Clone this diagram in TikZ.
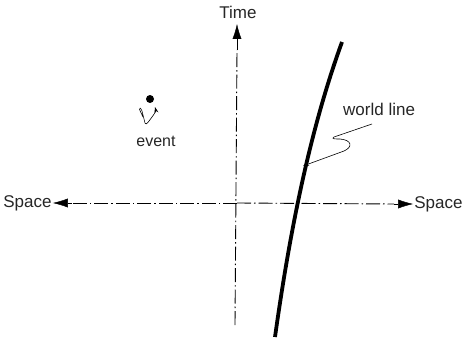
\documentclass[tikz,border=0pt]{standalone}
\usepackage{fontspec}
\setmainfont{Liberation Sans}
\usetikzlibrary{arrows.meta}
\begin{document}
\begin{tikzpicture}[x=1pt,y=-1pt,
  lbl/.style={font=\fontsize{17}{17}\selectfont, inner sep=0pt, text=black!85},
  axis/.style={line width=0.9pt, dash pattern=on 14pt off 3pt on 1.5pt off 3pt},
  tip/.style={-{Latex[length=15pt,width=9pt]}, solid},
  squig/.style={line width=0.6pt, -{Stealth[length=6pt,width=4pt]}}]
\useasboundingbox (0,0) rectangle (466,353);
% axes
\coordinate (o) at (237,203);
\node[lbl] (time) at (238,12) {Time};
\node[lbl] (sl) at (27.5,203) {Space};
\node[lbl] (sr) at (438.5,204) {Space};
\coordinate (tb) at (235,325);
\coordinate (tt) at (237,24);
\coordinate (tm) at (237,50);
\coordinate (rm) at (394,204);
\coordinate (lm) at (72,203);
\draw[axis] (tb) -- (tm);
\draw[tip] (tm) -- (tt);
\draw[axis] (o) -- (rm);
\draw[tip] (rm) -- ([xshift=-1pt]sr.west);
\draw[axis] (o) -- (lm);
\draw[tip] (lm) -- ([xshift=1pt]sl.east);
% world line
\coordinate (wb) at (275,337);
\coordinate (wt) at (342,42);
\draw[line width=3.8pt] (wb) .. controls (290,230) and (310,130) .. (wt);
\node[lbl, anchor=base west] (wl) at (343,115) {world line};
\coordinate (wa) at (372,124);
\coordinate (wtip) at (303,166);
\draw[squig] (wa) -- (334,137) .. controls (331,139) and (335,139) .. (340,139)
  .. controls (352,140) and (353,147) .. (344,151) -- (wtip);
% event
\node[circle, fill=black, inner sep=0pt, minimum size=8pt] (ev) at (150,99) {};
\node[lbl, font=\fontsize{16}{16}\selectfont] (evl) at (156,141) {event};
\coordinate (es) at (143,117);
\draw[squig] (es) -- (139.5,109.5) .. controls (139,107) and (141,108) .. (142,111)
  -- (145,123) .. controls (146,126) and (149,121) .. (152,117)
  .. controls (155,113) and (156,111) .. (155,107);
\end{tikzpicture}
\end{document}
